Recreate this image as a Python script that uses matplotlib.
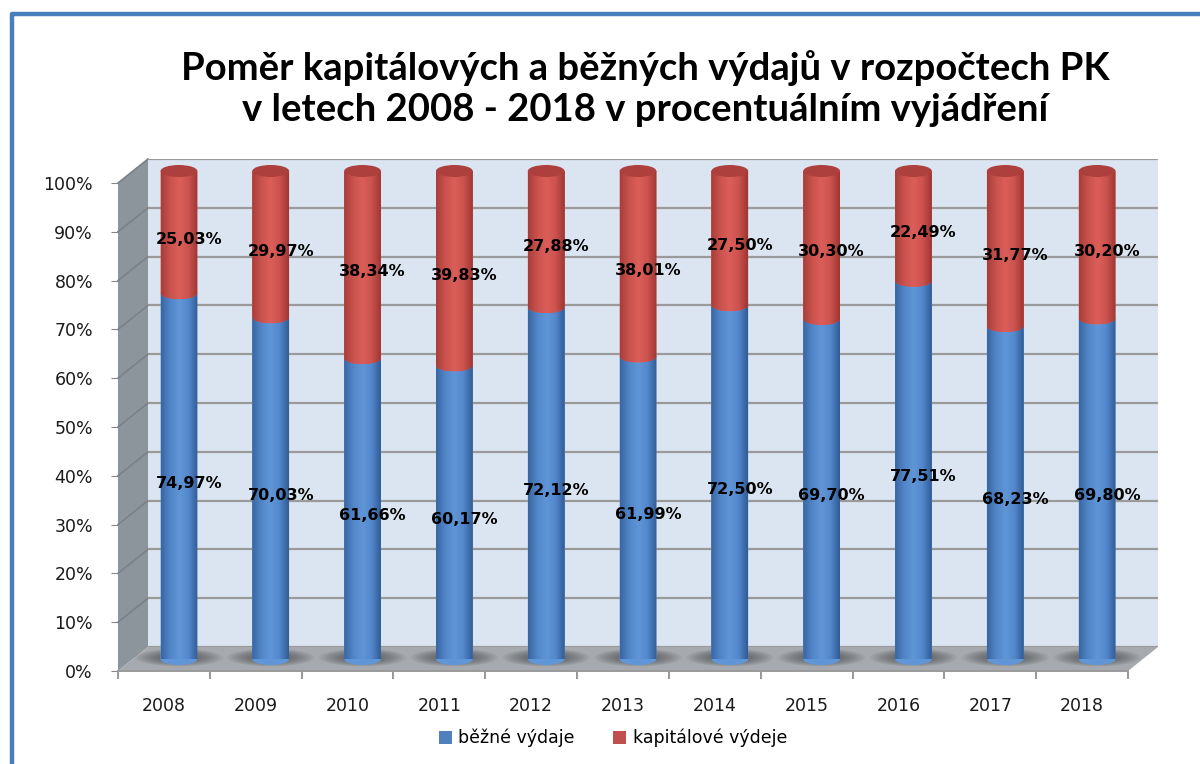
import matplotlib.pyplot as plt
import numpy as np
from matplotlib.patches import Polygon, Ellipse, PathPatch
from matplotlib.path import Path
from matplotlib.colors import LinearSegmentedColormap
from matplotlib.lines import Line2D

years = ['2008', '2009', '2010', '2011', '2012', '2013',
         '2014', '2015', '2016', '2017', '2018']
bezne = [74.97, 70.03, 61.66, 60.17, 72.12, 61.99,
         72.50, 69.70, 77.51, 68.23, 69.80]
kapitalove = [25.03, 29.97, 38.34, 39.83, 27.88, 38.01,
              27.50, 30.30, 22.49, 31.77, 30.20]
series_names = ['běžné výdaje', 'kapitálové výdeje']
title_lines = ['Poměr kapitálových a běžných výdajů v rozpočtech PK',
               'v letech 2008 - 2018 v procentuálním vyjádření']

W, H = 1200, 764
BLUE, RED = '#4f81bd', '#c0504d'
plt.rcParams['font.family'] = ['DejaVu Sans']

# middle plane of the fake 3d box (pixels, top-left origin)
LEFT, RIGHT, TOP, BOTTOM = 133, 1143, 171, 659
DX, DY = 15, 12
BW = 0.40                                  # cylinder width (categories)
EH = 12 * 100 / (BOTTOM - TOP)             # ellipse height in % units


def fx(x):
    return x / W


def fy(y):
    return 1 - y / H


def ypx(v):
    return BOTTOM - v / 100 * (BOTTOM - TOP)


fig = plt.figure(figsize=(W / 100, H / 100), dpi=100)


def plane_axes(dx, dy):
    a = fig.add_axes([fx(LEFT + dx), fy(BOTTOM + dy),
                      (RIGHT - LEFT) / W, (BOTTOM - TOP) / H])
    a.set_xlim(-0.5, len(years) - 0.5)
    a.set_ylim(0, 100)
    return a


# blue frame of the screenshot
fig.add_artist(Line2D([fx(12), fx(12), fx(1200)], [fy(764), fy(14), fy(14)],
                      transform=fig.transFigure, color='#4a7ebb', lw=3.2))

# side wall and floor
side = [(LEFT + DX, ypx(100) - DY), (LEFT + DX, ypx(0) - DY),
        (LEFT - DX, ypx(0) + DY), (LEFT - DX, ypx(100) + DY)]
floor = [(LEFT - DX, ypx(0) + DY), (RIGHT - DX, ypx(0) + DY),
         (RIGHT + DX, ypx(0) - DY), (LEFT + DX, ypx(0) - DY)]
for pts, col in ((side, '#8c949c'), (floor, '#a6aaae')):
    fig.add_artist(Polygon([(fx(px), fy(py)) for px, py in pts],
                           transform=fig.transFigure, facecolor=col,
                           edgecolor='none', zorder=-1))
for v in range(10, 101, 10):
    fig.add_artist(Line2D([fx(LEFT + DX), fx(LEFT - DX)],
                          [fy(ypx(v) - DY), fy(ypx(v) + DY)],
                          transform=fig.transFigure, color='#7a8188',
                          lw=1.2, zorder=-0.5))

# back wall
ax_back = plane_axes(DX, -DY)
ax_back.set_facecolor('#dbe5f1')
ax_back.set_yticks(np.arange(0, 101, 10))
ax_back.set_xticks([])
ax_back.tick_params(left=False, labelleft=False)
ax_back.grid(axis='y', color='#9a9a9a', lw=1.6)
for s in ax_back.spines.values():
    s.set_visible(False)

# cylinders
ax = plane_axes(0, 0)
ax.set_facecolor('none')
ax.axis('off')
x = np.arange(len(years))
b1 = ax.bar(x, bezne, width=BW, color=BLUE, label=series_names[0])
b2 = ax.bar(x, kapitalove, bottom=bezne, width=BW, color=RED,
            label=series_names[1])

cm_blue = LinearSegmentedColormap.from_list(
    'b', ['#3a66a3', '#5186c8', '#6096d8', '#5388cc', '#315c96'])
cm_red = LinearSegmentedColormap.from_list(
    'r', ['#a83e3a', '#cb524e', '#db5e59', '#cd534f', '#9e3633'])
grad = np.linspace(0, 1, 64)[None, :]


def segment(cx, y0, y1, cmap, z):
    t = np.linspace(np.pi, 2 * np.pi, 40)
    verts = list(zip(cx + BW / 2 * np.cos(t), y0 + EH / 2 * np.sin(t)))
    verts += [(cx + BW / 2, y1), (cx - BW / 2, y1), verts[0]]
    patch = PathPatch(Path(verts, closed=True), facecolor=cmap(0.5),
                      edgecolor='none', clip_on=False, zorder=z)
    ax.add_patch(patch)
    im = ax.imshow(grad, cmap=cmap, aspect='auto', interpolation='bilinear',
                   extent=(cx - BW / 2, cx + BW / 2, y0 - EH / 2, y1),
                   zorder=z)
    im.set_clip_path(patch)


for i in range(len(years)):
    # soft shadow on the floor
    for sw in np.linspace(0.95, 0.45, 10):
        ax.add_patch(Ellipse((x[i], 0.3), sw, EH * 1.1 * sw / 0.7,
                             facecolor='#303030', alpha=0.06,
                             edgecolor='none', clip_on=False, zorder=1))
    segment(x[i], 0, bezne[i], cm_blue, 2)
    segment(x[i], bezne[i], 100, cm_red, 3)
    ax.add_patch(Ellipse((x[i], 100), BW, EH, facecolor='#ad403c',
                         edgecolor='none', clip_on=False, zorder=4))
    for lo, v in ((0, bezne[i]), (bezne[i], kapitalove[i])):
        ax.annotate(f'{v:.2f}%'.replace('.', ','), (x[i], lo + v / 2),
                    xytext=(10, -7), textcoords='offset pixels',
                    ha='center', va='center', fontsize=11.5,
                    fontweight='bold', color='black', zorder=5)
ax.set_xlim(-0.5, len(years) - 0.5)
ax.set_ylim(0, 100)

# front plane: axis labels and ticks
ax_front = plane_axes(-DX, DY)
ax_front.set_facecolor('none')
for k in ('top', 'right', 'left'):
    ax_front.spines[k].set_visible(False)
ax_front.spines['bottom'].set_color('#9a9a9a')
ax_front.spines['bottom'].set_linewidth(1.4)
ax_front.set_yticks(np.arange(0, 101, 10))
ax_front.set_yticklabels([f'{v}%' for v in range(0, 101, 10)])
ax_front.tick_params(axis='y', length=5, color='#868686', pad=13,
                     labelsize=12.5, labelcolor='#1a1a1a')
ax_front.set_xticks(x)
ax_front.set_xticklabels(years)
ax_front.set_xticks(np.arange(-0.5, len(years)), minor=True)
ax_front.tick_params(axis='x', which='major', length=0, pad=19,
                     labelsize=12.5, labelcolor='#1a1a1a')
ax_front.tick_params(axis='x', which='minor', length=6, color='#868686',
                     width=1.2)

for line, ty in zip(title_lines, (68, 110)):
    fig.text(fx(645), fy(ty), line, ha='center', va='center',
             fontsize=27.5, fontweight='bold', family=['Lato', 'DejaVu Sans'])

fig.legend(handles=[b1, b2], loc='center',
           bbox_to_anchor=(fx(613), fy(738)), ncol=2, frameon=False,
           fontsize=12.5, handlelength=0.75, handleheight=0.75,
           handletextpad=0.4, columnspacing=2.2)

fig.savefig('out.png', dpi=100)
